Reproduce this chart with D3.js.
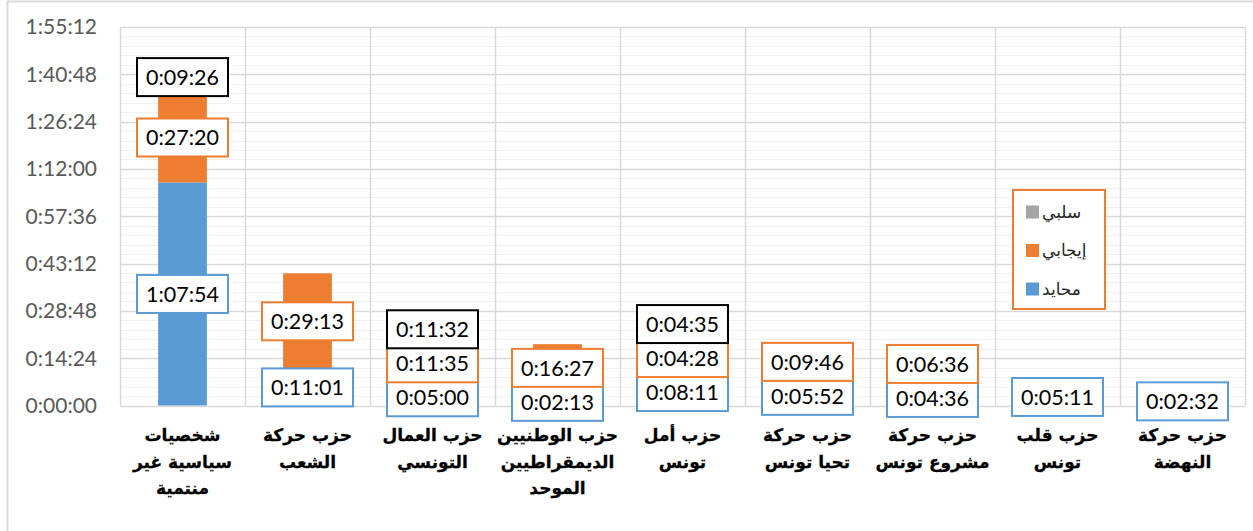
<!DOCTYPE html>
<html>
<head>
<meta charset="utf-8">
<script src="https://cdn.jsdelivr.net/npm/d3@7"></script>
<style>
  body { margin: 0; background: #fff; }
  svg { display: block; }
  .tick-label { font-family: Lato, "Open Sans", sans-serif; font-size: 21px; fill: #595959; }
  .data-label { font-family: Lato, "Open Sans", sans-serif; font-size: 21.5px; fill: #000; }
  .cat-label { font-family: "DejaVu Sans", sans-serif; font-size: 17px; font-weight: bold; fill: #000; stroke: #000; stroke-width: 0.3px; }
  .legend-label { font-family: "DejaVu Sans", sans-serif; font-size: 17px; fill: #262626; }
</style>
</head>
<body>
<svg id="chart" width="1253" height="531"></svg>
<script>
/* =========================
   DATA
========================= */
const categories = [
  "شخصيات\nسياسية غير\nمنتمية",
  "حزب حركة\nالشعب",
  "حزب العمال\nالتونسي",
  "حزب الوطنيين\nالديمقراطيين\nالموحد",
  "حزب أمل\nتونس",
  "حزب حركة\nتحيا تونس",
  "حزب حركة\nمشروع تونس",
  "حزب قلب\nتونس",
  "حزب حركة\nالنهضة"
];

// durations as h:mm:ss, "" = no segment
const neutral = ["1:07:54", "0:11:01", "0:05:00", "0:02:13", "0:08:11", "0:05:52", "0:04:36", "0:05:11", "0:02:32"];
const positive = ["0:27:20", "0:29:13", "0:11:35", "0:16:27", "0:04:28", "0:09:46", "0:06:36", "", ""];
const negative = ["0:09:26", "", "0:11:32", "", "0:04:35", "", "", "", ""];

const seriesKeys = ["neutral", "positive", "negative"];
const seriesNames = { neutral: "محايد", positive: "إيجابي", negative: "سلبي" };
const seriesColors = { neutral: "#5B9BD5", positive: "#ED7D31", negative: "#A5A5A5" };
const labelBorders = { neutral: "#5B9BD5", positive: "#ED7D31", negative: "#000000" };

const yMax = "1:55:12";
const yStep = "0:14:24";

/* =========================
   HELPERS
========================= */
function toSec(s) {
  if (!s) return 0;
  const p = s.split(":").map(Number);
  return p[0] * 3600 + p[1] * 60 + p[2];
}
function fmt(sec) {
  const h = Math.floor(sec / 3600);
  const m = Math.floor((sec % 3600) / 60);
  const s = Math.round(sec % 60);
  return h + ":" + String(m).padStart(2, "0") + ":" + String(s).padStart(2, "0");
}

const rows = categories.map((c, i) => ({
  cat: c,
  neutral: toSec(neutral[i]),
  positive: toSec(positive[i]),
  negative: toSec(negative[i])
}));

/* =========================
   SETUP
========================= */
const svg = d3.select("#chart");
const margin = { left: 120, right: 8, top: 27, bottom: 125.5 };
const W = 1253, H = 531;

// outer chart border
svg.append("rect")
  .attr("x", 7.5).attr("y", 1.5)
  .attr("width", 1270).attr("height", 560)
  .attr("fill", "#fff").attr("stroke", "#d9d9d9").attr("stroke-width", 2);

const x = d3.scaleBand()
  .domain(d3.range(categories.length))
  .range([margin.left, W - margin.right]);

const y = d3.scaleLinear()
  .domain([0, toSec(yMax)])
  .range([H - margin.bottom, margin.top]);

const g = svg.append("g");

/* ===== GRID ===== */
const step = toSec(yStep);
const minorTicks = d3.range(0, toSec(yMax) + 1, step / 5);
g.selectAll(".minor")
  .data(minorTicks)
  .enter().append("line")
  .attr("x1", margin.left).attr("x2", W - margin.right)
  .attr("y1", (d) => Math.round(y(d)) + 0.5).attr("y2", (d) => Math.round(y(d)) + 0.5)
  .attr("stroke", "#f0f0f0").attr("stroke-width", 1.2);

const majorTicks = d3.range(0, toSec(yMax) + 1, step);
g.selectAll(".major")
  .data(majorTicks)
  .enter().append("line")
  .attr("x1", margin.left).attr("x2", W - margin.right)
  .attr("y1", (d) => Math.round(y(d)) + 0.5).attr("y2", (d) => Math.round(y(d)) + 0.5)
  .attr("stroke", "#d9d9d9").attr("stroke-width", 1.5);

const bounds = d3.range(categories.length + 1).map((i) => margin.left + i * x.step());
g.selectAll(".vgrid")
  .data(bounds)
  .enter().append("line")
  .attr("x1", (d) => Math.round(d) + 0.5).attr("x2", (d) => Math.round(d) + 0.5)
  .attr("y1", y(toSec(yMax))).attr("y2", y(0))
  .attr("stroke", "#d9d9d9").attr("stroke-width", 1.5);

/* ===== Y AXIS LABELS ===== */
g.selectAll(".tick-label")
  .data(majorTicks)
  .enter().append("text")
  .attr("class", "tick-label")
  .attr("x", 97)
  .attr("y", (d) => y(d))
  .attr("dy", "0.35em")
  .attr("text-anchor", "end")
  .text((d) => fmt(d));

/* ===== BARS ===== */
const stack = d3.stack().keys(seriesKeys);
const layers = stack(rows);
const barW = x.bandwidth() * 0.39;

g.selectAll(".layer")
  .data(layers)
  .enter().append("g")
  .attr("fill", (d) => seriesColors[d.key])
  .selectAll("rect")
  .data((d) => d)
  .enter().append("rect")
  .attr("x", (d, i) => x(i) + x.bandwidth() / 2 - barW / 2)
  .attr("width", barW)
  .attr("y", (d) => y(d[1]))
  .attr("height", (d) => y(d[0]) - y(d[1]));

/* ===== DATA LABELS ===== */
// centred on segment, pushed up when they would collide with the label below
const boxW = 91, boxH = 38, gap = 34;
const labels = [];
rows.forEach((r, i) => {
  let prev = null;
  layers.forEach((layer) => {
    const d = layer[i];
    const v = d[1] - d[0];
    if (v <= 0) return;
    let cy = y((d[0] + d[1]) / 2);
    if (prev !== null) cy = Math.min(cy, prev - gap);
    prev = cy;
    labels.push({ key: layer.key, i, v, cy });
  });
});

const lab = g.selectAll(".lab")
  .data(labels)
  .enter().append("g")
  .attr("transform", (d) => `translate(${x(d.i) + x.bandwidth() / 2},${d.cy})`);

lab.append("rect")
  .attr("x", -boxW / 2).attr("y", -boxH / 2)
  .attr("width", boxW).attr("height", boxH)
  .attr("fill", "#fff")
  .attr("stroke", (d) => labelBorders[d.key])
  .attr("stroke-width", 2);

lab.append("text")
  .attr("class", "data-label")
  .attr("text-anchor", "middle")
  .attr("dy", "0.36em")
  .text((d) => fmt(d.v));

/* ===== CATEGORY LABELS ===== */
g.selectAll(".cat-label")
  .data(categories)
  .enter().append("text")
  .attr("class", "cat-label")
  .attr("text-anchor", "middle")
  .attr("x", (d, i) => x(i) + x.bandwidth() / 2)
  .attr("y", 441)
  .each(function (d) {
    const t = d3.select(this);
    d.split("\n").forEach((line, k) => {
      t.append("tspan")
        .attr("x", t.attr("x"))
        .attr("y", 441 + k * 26.5)
        .text(line);
    });
  });

/* ===== LEGEND ===== */
const legend = svg.append("g").attr("transform", "translate(1013,190)");
legend.append("rect")
  .attr("width", 92).attr("height", 119)
  .attr("fill", "#fff").attr("stroke", "#ED7D31").attr("stroke-width", 2);

const legendKeys = ["negative", "positive", "neutral"];
const li = legend.selectAll(".li")
  .data(legendKeys)
  .enter().append("g")
  .attr("transform", (d, k) => `translate(0,${22 + k * 38.5})`);

li.append("rect")
  .attr("x", 13).attr("y", -6.5)
  .attr("width", 13).attr("height", 13)
  .attr("fill", (d) => seriesColors[d]);

li.append("text")
  .attr("class", "legend-label")
  .attr("x", 29)
  .attr("dy", "0.35em")
  .text((d) => seriesNames[d]);
</script>
</body>
</html>
